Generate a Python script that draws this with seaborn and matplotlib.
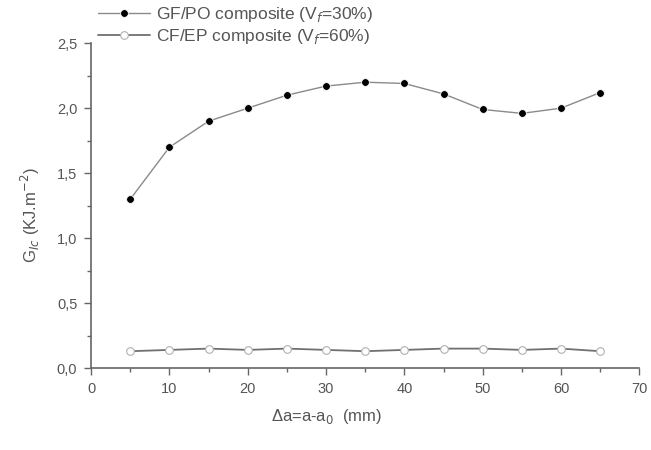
import numpy as np
import pandas as pd
import matplotlib
matplotlib.use('Agg')
import matplotlib.pyplot as plt
import seaborn as sns
from matplotlib.ticker import MultipleLocator, FuncFormatter

sns.set_style('ticks')
plt.rcParams['font.family'] = ['Liberation Sans', 'DejaVu Sans']

# data
crack_ext = [5, 10, 15, 20, 25, 30, 35, 40, 45, 50, 55, 60, 65]
gf_po = [1.30, 1.70, 1.90, 2.00, 2.10, 2.17, 2.20, 2.19, 2.11, 1.99, 1.96, 2.00, 2.12]
cf_ep = [0.13, 0.14, 0.15, 0.14, 0.15, 0.14, 0.13, 0.14, 0.15, 0.15, 0.14, 0.15, 0.13]
labels = ['GF/PO composite (V$_f$=30%)', 'CF/EP composite (V$_f$=60%)']

df = pd.DataFrame({'da': crack_ext, 'gf': gf_po, 'cf': cf_ep})

txt = '#555555'
fig = plt.figure(figsize=(6.51, 4.5), dpi=100)
ax = fig.add_axes([0.14, 0.182, 0.842, 0.722])

sns.lineplot(data=df, x='da', y='gf', ax=ax, color='#8a8a8a', lw=1.0,
             marker='o', markersize=5.6, markerfacecolor='black',
             markeredgecolor='white', markeredgewidth=0.6, label=labels[0])
sns.lineplot(data=df, x='da', y='cf', ax=ax, color='#707070', lw=1.3,
             marker='o', markersize=5.5, markerfacecolor='white',
             markeredgecolor='#b0b0b0', markeredgewidth=0.8, label=labels[1])

ax.set_xlim(0, 70)
ax.set_ylim(0, 2.5)
ax.xaxis.set_major_locator(MultipleLocator(10))
ax.xaxis.set_minor_locator(MultipleLocator(5))
ax.yaxis.set_major_locator(MultipleLocator(0.5))
ax.yaxis.set_minor_locator(MultipleLocator(0.25))
ax.yaxis.set_major_formatter(FuncFormatter(lambda v, p: f'{v:.1f}'.replace('.', ',')))
ax.tick_params(which='major', length=5, width=1, colors='#666666', labelcolor=txt,
               labelsize=10.5, pad=5)
ax.tick_params(which='minor', length=3, width=1, colors='#666666')
sns.despine(ax=ax)
for s in ['left', 'bottom']:
    ax.spines[s].set_color('#666666')
    ax.spines[s].set_linewidth(1.2)

ax.set_xlabel('Δa=a-a$_0$  (mm)', color=txt, fontsize=12)
ax.set_ylabel('G$_{Ic}$ (KJ.m$^{-2}$)', color=txt, fontsize=12)
ax.xaxis.set_label_coords(0.43, -0.12)
ax.yaxis.set_label_coords(-0.09, 0.47)

leg = ax.legend(loc='lower left', bbox_to_anchor=(0.012, 0.99), frameon=False,
                fontsize=12.5, handlelength=3.0, handletextpad=0.35, labelspacing=0.22,
                borderaxespad=0, borderpad=0)
for t in leg.get_texts():
    t.set_color(txt)

fig.savefig('out.png', dpi=100)
